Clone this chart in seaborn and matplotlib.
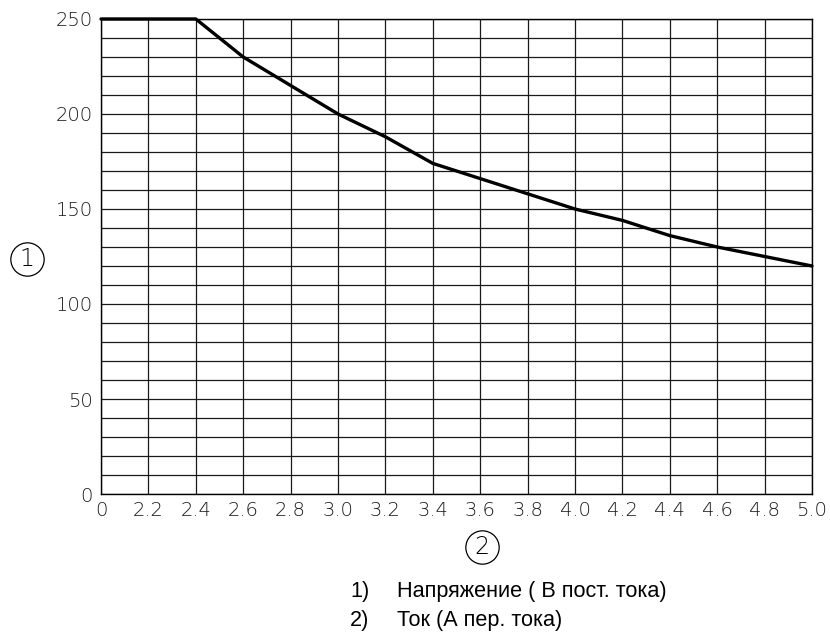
import numpy as np
import pandas as pd
import matplotlib
matplotlib.use("Agg")
import matplotlib.pyplot as plt
import seaborn as sns

# ---- data ----
current = [2.0, 2.2, 2.4, 2.6, 2.8, 3.0, 3.2, 3.4, 3.6, 3.8, 4.0, 4.2, 4.4, 4.6, 4.8, 5.0]
voltage = [250, 250, 250, 230, 215, 200, 188, 174, 166, 158, 150, 144, 136, 130, 125, 120]
x_tick_labels = ["0", "2.2", "2.4", "2.6", "2.8", "3.0", "3.2", "3.4", "3.6", "3.8",
                 "4.0", "4.2", "4.4", "4.6", "4.8", "5.0"]
y_major = [0, 50, 100, 150, 200, 250]
legend_numbers = ["1)", "2)"]
legend_texts = ["Напряжение ( В пост. тока)", "Ток (А пер. тока)"]

sns.set_theme(style="white")
plt.rcParams["font.family"] = ["DejaVu Sans"]

fig = plt.figure(figsize=(8.3, 6.39), dpi=100)
ax = fig.add_axes([0.1217, 0.2269, 0.8566, 0.7434])

df = pd.DataFrame({"current": current, "voltage": voltage})
sns.lineplot(data=df, x="current", y="voltage", ax=ax, color="black", lw=2.4, zorder=5)
for ln in ax.get_lines():
    ln.set_clip_on(False)

ax.set_xlim(current[0], current[-1])
ax.set_ylim(0, 250)

ax.set_xticks(current)
ax.set_xticklabels(x_tick_labels)
yt = list(range(0, 251, 10))
ax.set_yticks(yt)
ax.set_yticklabels([str(v) if v in y_major else "" for v in yt])

ax.grid(True, color="#1a1a1a", lw=0.9)
ax.set_axisbelow(True)
for s in ax.spines.values():
    s.set_color("black")
    s.set_linewidth(1.0)
    s.set_visible(True)

ax.tick_params(axis="both", length=0, labelsize=14, colors="#1a1a1a")
ax.tick_params(axis="y", pad=6)
ax.tick_params(axis="x", pad=5)
for lbl in ax.get_xticklabels() + ax.get_yticklabels():
    lbl.set_fontweight("light")
ax.set_xlabel("")
ax.set_ylabel("")

# circled axis markers
for (fx, fy, num) in [(27 / 830, 1 - 259 / 639, "1"), (482 / 830, 1 - 547 / 639, "2")]:
    fig.lines.append(plt.Line2D([fx], [fy], marker="o", markersize=24, mfc="none",
                                mec="black", mew=0.9, transform=fig.transFigure))
    fig.text(fx, fy, num, ha="center", va="center", fontsize=17, fontweight="light",
             color="black")

# legend text
for i, (n, t) in enumerate(zip(legend_numbers, legend_texts)):
    yb = 1 - (597 + 29 * i) / 639
    fig.text(350 / 830, yb, n, ha="left", va="baseline", fontsize=15.6,
             family="Liberation Sans", color="black")
    fig.text(397 / 830, yb, t, ha="left", va="baseline", fontsize=15.6,
             family="Liberation Sans", color="black")

fig.savefig("out.png", dpi=100)
